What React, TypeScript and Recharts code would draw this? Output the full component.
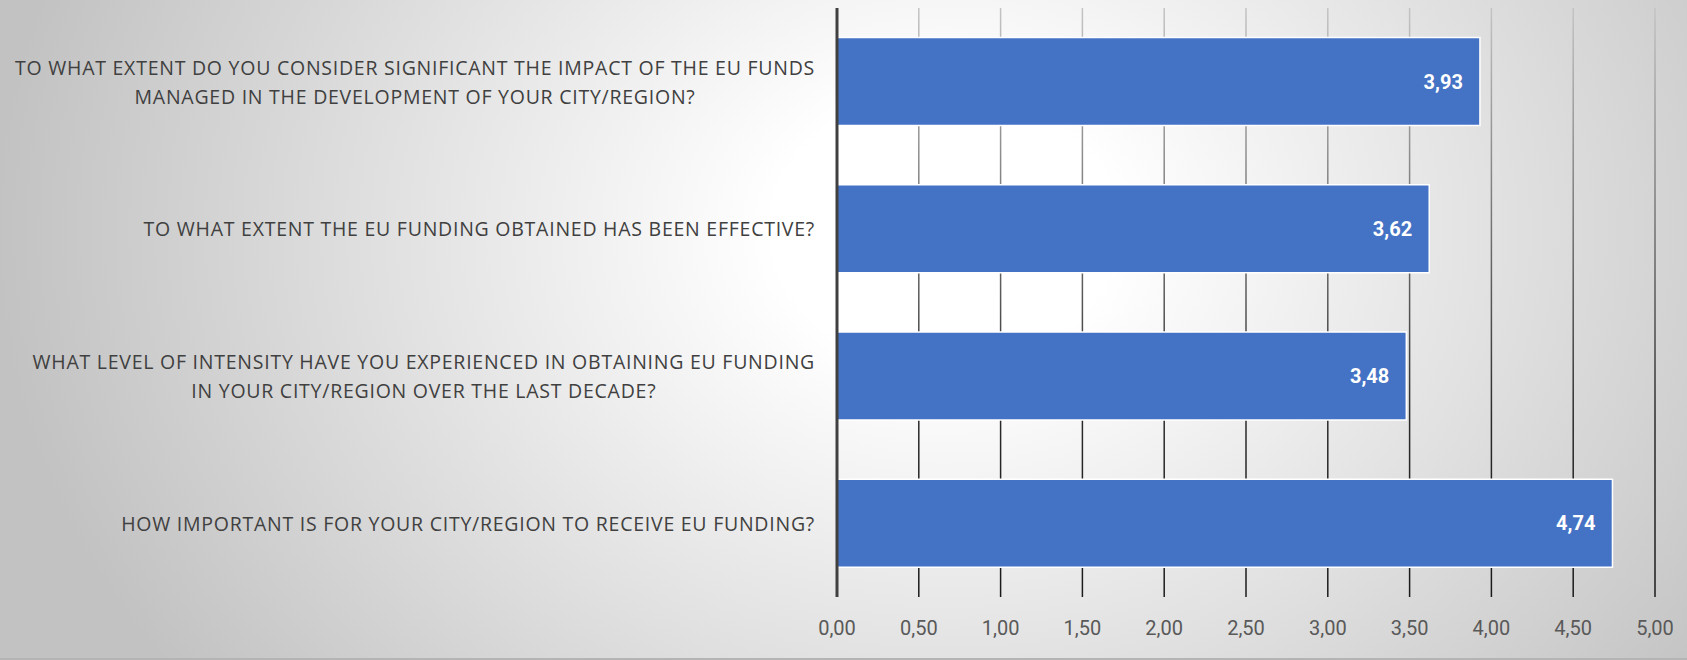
import { Bar, BarChart, CartesianGrid, LabelList, XAxis, YAxis } from "recharts";

const questions = [
  "TO WHAT EXTENT DO YOU CONSIDER SIGNIFICANT THE IMPACT OF THE EU FUNDS\nMANAGED IN THE DEVELOPMENT OF YOUR CITY/REGION?",
  "TO WHAT EXTENT THE EU FUNDING OBTAINED HAS BEEN EFFECTIVE?",
  "WHAT LEVEL OF INTENSITY HAVE YOU EXPERIENCED IN OBTAINING EU FUNDING\nIN YOUR CITY/REGION OVER THE LAST DECADE?",
  "HOW IMPORTANT IS FOR YOUR CITY/REGION TO RECEIVE EU FUNDING?",
];
const scores = [3.93, 3.62, 3.48, 4.74];
const xTicks = [0, 0.5, 1, 1.5, 2, 2.5, 3, 3.5, 4, 4.5, 5];

const data = questions.map((q, i) => ({ question: q, score: scores[i] }));

const W = 1687;
const H = 660;
const FONT = "Roboto, sans-serif";
const Q_FONT = '"Open Sans", Roboto, sans-serif';
const Q_SIZE = 19.5;
const Q_SPACING = 0.75;

const fmt = (v: number) => v.toFixed(2).replace(".", ",");

let ctx: CanvasRenderingContext2D | null = null;
const measure = (s: string) => {
  if (!ctx) ctx = document.createElement("canvas").getContext("2d");
  if (!ctx) return s.length * 12;
  ctx.font = `${Q_SIZE}px ${Q_FONT}`;
  return ctx.measureText(s).width + s.length * Q_SPACING;
};

// two-line questions: lines centred on each other, block flush right
const QuestionTick = (props: any) => {
  const { y, payload } = props;
  const lines: string[] = String(payload.value).split("\n");
  const right = 815;
  const widest = Math.max(...lines.map(measure));
  const cx = right - widest / 2;
  const lh = 29;
  const top = y - ((lines.length - 1) * lh) / 2;
  return (
    <g>
      {lines.map((l, i) => (
        <text
          key={i}
          x={cx}
          y={top + i * lh}
          textAnchor="middle"
          dominantBaseline="central"
          fill="#404040"
          fontSize={Q_SIZE}
          fontFamily={Q_FONT}
          letterSpacing={Q_SPACING}
        >
          {l}
        </text>
      ))}
    </g>
  );
};

const ValueTick = (props: any) => {
  const { x, payload } = props;
  return (
    <text
      x={x}
      y={628}
      textAnchor="middle"
      dominantBaseline="central"
      fill="#595959"
      fontSize={20}
      fontFamily={FONT}
    >
      {fmt(payload.value)}
    </text>
  );
};

export default function App() {
  return (
    <div
      style={{
        position: "absolute",
        left: 0,
        top: 0,
        width: W,
        height: H,
        background:
          "radial-gradient(ellipse 950px 760px at 56% 35%, #ffffff 0%, #ffffff 18%, #c2c2c2 100%)",
        borderBottom: "2px solid #b4b4b4",
        boxSizing: "border-box",
      }}
    >
      <BarChart
        width={W}
        height={H}
        data={data}
        layout="vertical"
        barCategoryGap="20%"
        margin={{ top: 8, right: 32, bottom: 0, left: 0 }}
      >
        <defs>
          <linearGradient id="gridFade" gradientUnits="userSpaceOnUse" x1="0" y1="8" x2="0" y2="597">
            <stop offset="0%" stopColor="#c4c4c4" />
            <stop offset="70%" stopColor="#2a2a2a" />
            <stop offset="100%" stopColor="#1a1a1a" />
          </linearGradient>
        </defs>
        <CartesianGrid horizontal={false} stroke="url(#gridFade)" strokeWidth={1.5} />
        <XAxis
          type="number"
          domain={[0, 5]}
          ticks={xTicks}
          axisLine={false}
          tickLine={false}
          height={63}
          tick={<ValueTick />}
          interval={0}
        />
        <YAxis
          type="category"
          dataKey="question"
          width={837}
          axisLine={{ stroke: "#404040", strokeWidth: 3 }}
          tickLine={false}
          tick={<QuestionTick />}
          interval={0}
        />
        <Bar dataKey="score" fill="#4472C4" stroke="#ffffff" strokeWidth={1.5} isAnimationActive={false}>
          <LabelList
            dataKey="score"
            position="insideRight"
            offset={17}
            formatter={(v: any) => fmt(Number(v))}
            fill="#ffffff"
            fontSize={20}
            fontWeight="bold"
            fontFamily={FONT}
          />
        </Bar>
      </BarChart>
    </div>
  );
}
